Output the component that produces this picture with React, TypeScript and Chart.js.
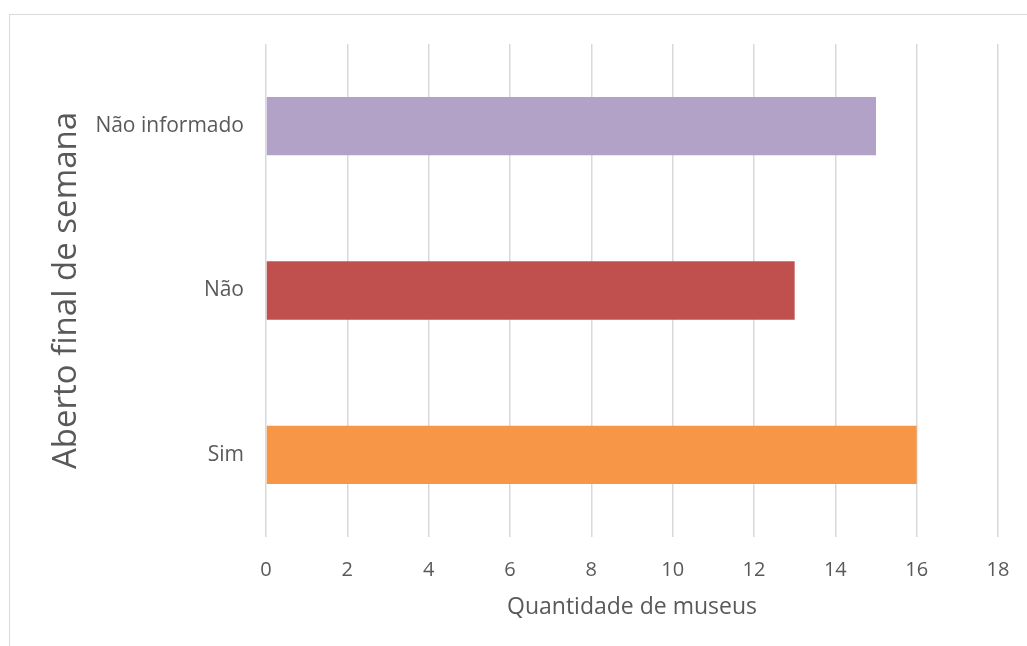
import React, { useEffect, useRef } from "react";
import { Chart, registerables } from "chart.js";

Chart.register(...registerables);

// Categories listed top to bottom
const categories = ["Não informado", "Não", "Sim"];
const museumCounts = [15, 13, 16];
const barColors = ["#B3A2C7", "#C0504D", "#F79646"];
const xMin = 0;
const xMax = 18;
const xStep = 2;

const FONT = "'Open Sans', 'Noto Sans', sans-serif";
const TEXT_COLOR = "#595959";
const GRID_COLOR = "#D9D9D9";

export default function App() {
  const canvasRef = useRef<HTMLCanvasElement | null>(null);

  useEffect(() => {
    if (!canvasRef.current) return;
    const chart = new Chart(canvasRef.current, {
      type: "bar",
      data: {
        labels: categories,
        datasets: [
          {
            data: museumCounts,
            backgroundColor: barColors,
            borderWidth: 0,
            categoryPercentage: 1,
            barPercentage: 0.355,
          },
        ],
      },
      options: {
        indexAxis: "y",
        responsive: false,
        animation: false,
        layout: { padding: { top: 44, right: 29, left: 0, bottom: 0 } },
        plugins: {
          legend: { display: false },
          tooltip: { enabled: false },
        },
        scales: {
          x: {
            min: xMin,
            max: xMax,
            ticks: {
              stepSize: xStep,
              color: TEXT_COLOR,
              font: { family: FONT, size: 20 },
              padding: 21,
            },
            grid: {
              color: GRID_COLOR,
              lineWidth: 1.5,
              drawTicks: false,
            },
            border: { display: false },
            title: {
              display: true,
              text: "Quantidade de museus",
              color: TEXT_COLOR,
              font: { family: FONT, size: 23 },
              padding: { top: 0, bottom: 25 },
            },
            afterFit: (scale: any) => {
              scale.height = 109;
              // keep the plot edges fixed by the layout padding only
              scale.paddingLeft = 0;
              scale.paddingRight = 0;
            },
          },
          y: {
            ticks: {
              color: TEXT_COLOR,
              font: { family: FONT, size: 21 },
              padding: 22,
            },
            grid: { display: false, drawTicks: false },
            border: { display: false },
            title: {
              display: true,
              text: "Aberto final de semana",
              color: TEXT_COLOR,
              font: { family: FONT, size: 33 },
              padding: { top: 47, bottom: 0 },
            },
            afterFit: (scale: any) => {
              scale.width = 266;
              scale.paddingTop = 0;
              scale.paddingBottom = 0;
            },
          },
        },
      },
    });
    return () => chart.destroy();
  }, []);

  return (
    <div
      style={{
        position: "absolute",
        left: 0,
        top: 0,
        width: 1027,
        height: 646,
        overflow: "hidden",
        background: "#FFFFFF",
      }}
    >
      <div
        style={{
          position: "absolute",
          left: 9,
          top: 14,
          width: 1100,
          height: 700,
          borderLeft: "1px solid #D9D9D9",
          borderTop: "1px solid #D9D9D9",
        }}
      />
      <canvas
        ref={canvasRef}
        width={1027}
        height={646}
        style={{ position: "absolute", left: 0, top: 0 }}
      />
    </div>
  );
}
